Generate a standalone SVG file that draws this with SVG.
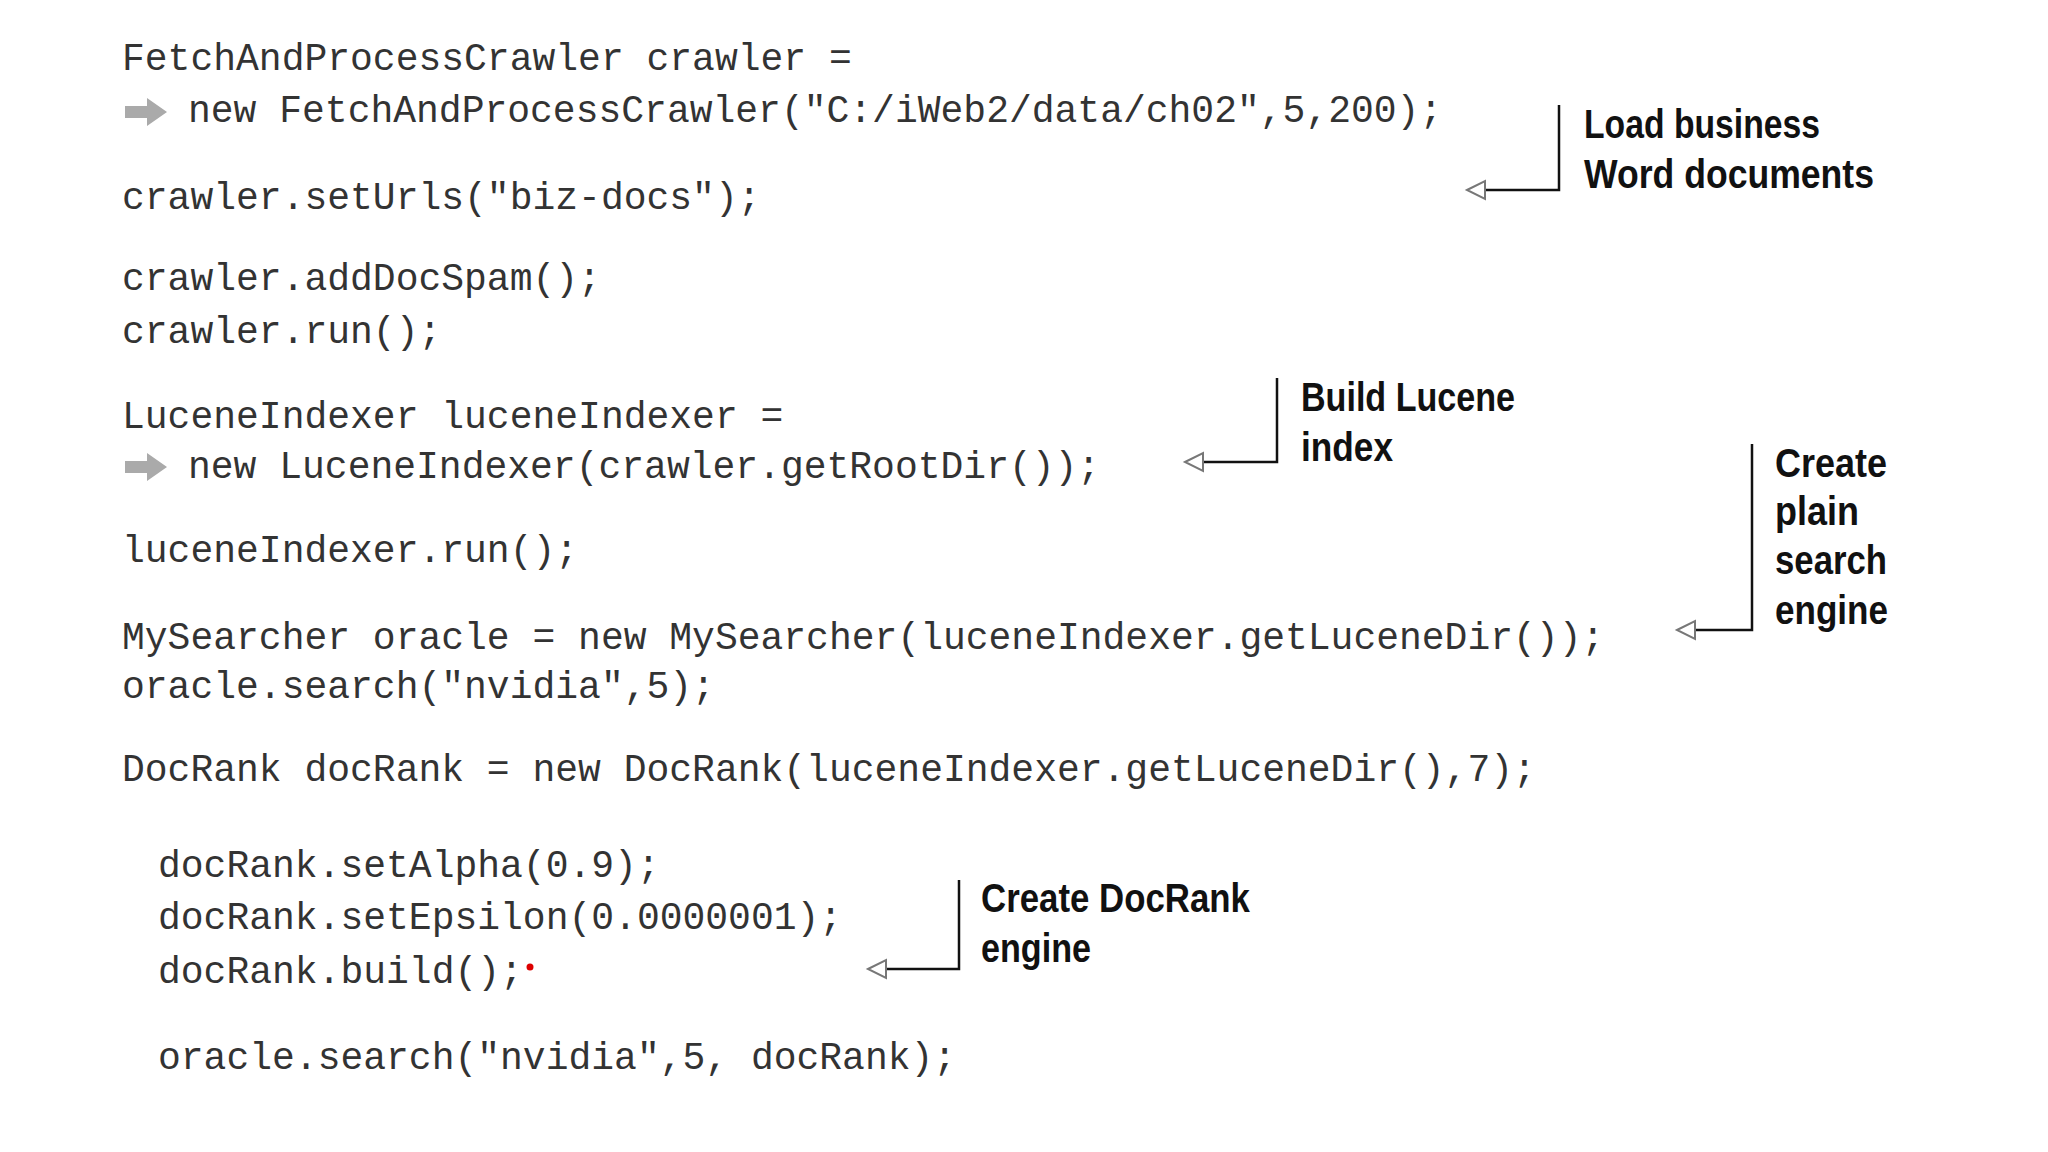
<svg xmlns="http://www.w3.org/2000/svg" width="2048" height="1152" viewBox="0 0 2048 1152">
<style>
.c{font-family:"Liberation Mono",monospace;font-size:38px;fill:#333}
.a{font-family:"Liberation Sans",Arial,sans-serif;font-weight:bold;font-size:40px;fill:#111}
.l{fill:none;stroke:#111;stroke-width:2.5}
.h{fill:#fff;stroke:#777;stroke-width:2}
.g{fill:#aaa}
</style>
<rect width="2048" height="1152" fill="#fff"/>
<g id="code">
<text class="c" x="122" y="70">FetchAndProcessCrawler crawler =</text>
<path class="g" d="M125 106h22v-8l20 14-20 14v-8h-22z"/>
<text class="c" x="188" y="122">new FetchAndProcessCrawler("C:/iWeb2/data/ch02",5,200);</text>
<text class="c" x="122" y="209">crawler.setUrls("biz-docs");</text>
<text class="c" x="122" y="290">crawler.addDocSpam();</text>
<text class="c" x="122" y="343">crawler.run();</text>
<text class="c" x="122" y="428">LuceneIndexer luceneIndexer =</text>
<path class="g" d="M125 461h22v-8l20 14-20 14v-8h-22z"/>
<text class="c" x="188" y="478">new LuceneIndexer(crawler.getRootDir());</text>
<text class="c" x="122" y="562">luceneIndexer.run();</text>
<text class="c" x="122" y="649">MySearcher oracle = new MySearcher(luceneIndexer.getLuceneDir());</text>
<text class="c" x="122" y="698">oracle.search("nvidia",5);</text>
<text class="c" x="122" y="781">DocRank docRank = new DocRank(luceneIndexer.getLuceneDir(),7);</text>
<text class="c" x="158" y="877">docRank.setAlpha(0.9);</text>
<text class="c" x="158" y="929">docRank.setEpsilon(0.0000001);</text>
<text class="c" x="158" y="983">docRank.build();</text>
<circle cx="530" cy="967" r="3.5" fill="#d00"/>
<text class="c" x="158" y="1069">oracle.search("nvidia",5, docRank);</text>
</g>
<g id="connectors">
<path class="l" d="M1559 105V190H1483"/>
<path class="h" d="M1467 190L1485 181V199Z"/>
<path class="l" d="M1277 378V462H1201"/>
<path class="h" d="M1185 462L1203 453V471Z"/>
<path class="l" d="M1752 444V630H1694"/>
<path class="h" d="M1677 630L1695 621V639Z"/>
<path class="l" d="M959 880V969H886"/>
<path class="h" d="M868 969L886 960V978Z"/>
</g>
<g id="note1">
<text class="a" x="1584" y="138" textLength="236" lengthAdjust="spacingAndGlyphs">Load business</text>
<text class="a" x="1584" y="188" textLength="290" lengthAdjust="spacingAndGlyphs">Word documents</text>
</g>
<g id="note2">
<text class="a" x="1301" y="411" textLength="214" lengthAdjust="spacingAndGlyphs">Build Lucene</text>
<text class="a" x="1301" y="461" textLength="92" lengthAdjust="spacingAndGlyphs">index</text>
</g>
<g id="note3">
<text class="a" x="1775" y="477" textLength="112" lengthAdjust="spacingAndGlyphs">Create</text>
<text class="a" x="1775" y="525" textLength="84" lengthAdjust="spacingAndGlyphs">plain</text>
<text class="a" x="1775" y="574" textLength="112" lengthAdjust="spacingAndGlyphs">search</text>
<text class="a" x="1775" y="624" textLength="113" lengthAdjust="spacingAndGlyphs">engine</text>
</g>
<g id="note4">
<text class="a" x="981" y="912" textLength="269" lengthAdjust="spacingAndGlyphs">Create DocRank</text>
<text class="a" x="981" y="962" textLength="110" lengthAdjust="spacingAndGlyphs">engine</text>
</g>
</svg>
